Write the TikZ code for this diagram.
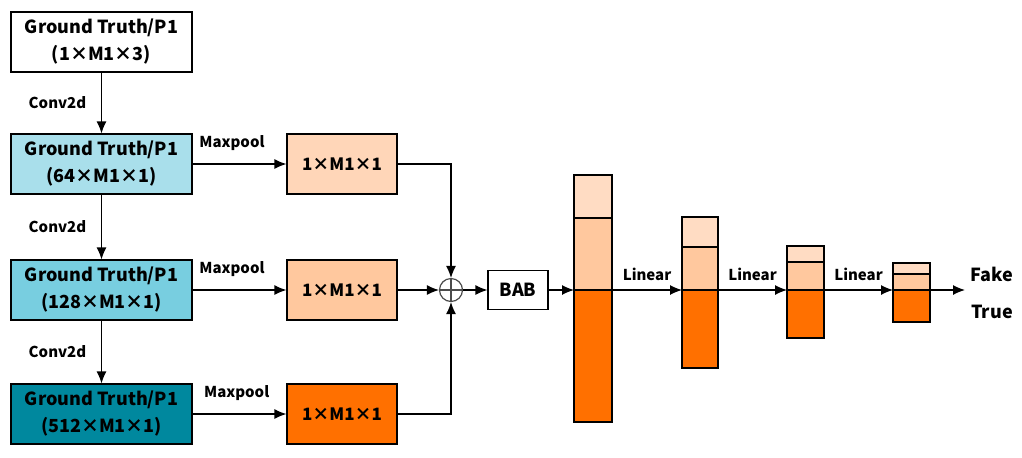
\documentclass[tikz,border=0pt]{standalone}
\usepackage{fontspec}
\setmainfont{Noto Sans CJK SC}
\usetikzlibrary{arrows.meta}

\definecolor{gtlight}{HTML}{A9DFEB}
\definecolor{gtmid}{HTML}{78CEE0}
\definecolor{gtdark}{HTML}{00889E}
\definecolor{peachlt}{HTML}{FFDCC3}
\definecolor{peach}{HTML}{FFC89E}
\definecolor{deeporange}{HTML}{FF7000}

\tikzset{
  gtbox/.style={draw, minimum width=90.5pt, minimum height=30pt, align=center,
    inner sep=0pt, font=\bfseries\fontsize{9}{13.5}\selectfont},
  poolbox/.style={draw, minimum width=55pt, minimum height=30pt, inner sep=0pt,
    font=\bfseries\fontsize{8.5}{11}\selectfont},
  lbl/.style={font=\bfseries\fontsize{7.5}{9}\selectfont},
  outlbl/.style={font=\bfseries\fontsize{9}{11}\selectfont}
}

\begin{document}
\begin{tikzpicture}[x=0.5pt,y=-0.5pt,line width=0.6pt,>={Latex[length=6pt,width=5pt]}]
   \useasboundingbox (0,0) rectangle (1022,457);
   % left column
   \node[gtbox,fill=white]   (gt1) at (101.5,42)  {Ground Truth/P1\\(1×M1×3)};
   \node[gtbox,fill=gtlight] (gt2) at (101.5,164) {Ground Truth/P1\\(64×M1×1)};
   \node[gtbox,fill=gtmid]   (gt3) at (101.5,290) {Ground Truth/P1\\(128×M1×1)};
   \node[gtbox,fill=gtdark]  (gt4) at (101.5,414) {Ground Truth/P1\\(512×M1×1)};
   \draw[->] (gt1) -- node[lbl,left=4pt] {Conv2d} (gt2);
   \draw[->] (gt2) -- node[lbl,left=4pt] {Conv2d} (gt3);
   \draw[->] (gt3) -- node[lbl,left=4pt] {Conv2d} (gt4);
   % pooled features
   \node[poolbox,fill=peachlt!70!peach] (pool1) at (342,164) {1×M1×1};
   \node[poolbox,fill=peach]            (pool2) at (342,290) {1×M1×1};
   \node[poolbox,fill=deeporange]       (pool3) at (342,414) {1×M1×1};
   \draw[->] (gt2) -- node[lbl,above=3pt,pos=0.42] {Maxpool} (pool1);
   \draw[->] (gt3) -- node[lbl,above=3pt,pos=0.42] {Maxpool} (pool2);
   \draw[->] (gt4) -- node[lbl,above=3pt,pos=0.47] {Maxpool} (pool3);
   % sum and BAB
   \node[draw,circle,minimum size=11.5pt,inner sep=0pt,draw=black!70,
     path picture={\draw[black!70] (path picture bounding box.north) -- (path picture bounding box.south)
       (path picture bounding box.west) -- (path picture bounding box.east);}] (sum) at (451,290) {};
   \draw[->] (pool1) -| (sum);
   \draw[->] (pool2) -- (sum);
   \draw[->] (pool3) -| (sum);
   \node[draw,minimum width=30pt,minimum height=19.5pt,inner sep=0pt,
     font=\bfseries\fontsize{9}{11}\selectfont] (bab) at (518,290) {BAB};
   \draw[->] (sum) -- (bab);
   % linear layers
   \foreach \xa/\xb/\ya/\yb/\yc [count=\i] in {574/612/175/218/422, 682/718/217/247/368,
       787/824/246/262/338, 893/930/263/274/322}{
     \filldraw[fill=peachlt] (\xa,\ya) rectangle (\xb,\yb);
     \filldraw[fill=peach] (\xa,\yb) rectangle (\xb,290);
     \filldraw[fill=deeporange] (\xa,290) rectangle (\xb,\yc);
     \coordinate (bar\i l) at (\xa,290);
     \coordinate (bar\i r) at (\xb,290);
   }
   \draw[->] (bab) -- (bar1l);
   \draw[->] (bar1r) -- node[lbl,above=1pt] {Linear} (bar2l);
   \draw[->] (bar2r) -- node[lbl,above=1pt] {Linear} (bar3l);
   \draw[->] (bar3r) -- node[lbl,above=1pt] {Linear} (bar4l);
   \coordinate (out) at (965,290);
   \draw[->] (bar4r) -- (out);
   \node[outlbl] (fake) at (992,274) {Fake};
   \node[outlbl] (true) at (992,312) {True};
\end{tikzpicture}
\end{document}
